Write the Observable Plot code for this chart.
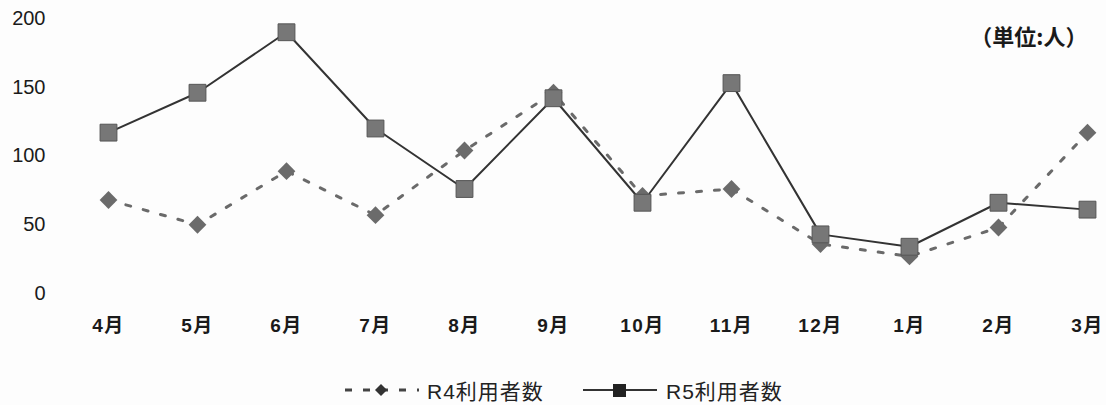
<!DOCTYPE html>
<html>
<head>
<meta charset="utf-8">
<script src="https://cdn.jsdelivr.net/npm/d3@7"></script>
<script src="https://cdn.jsdelivr.net/npm/@observablehq/plot@0.6"></script>
<style>
  html, body { margin: 0; padding: 0; background: #fdfdfd; }
  #chart { width: 1106px; height: 405px; position: relative; font-family: "Liberation Sans", "Noto Sans CJK JP", sans-serif; color: #222; }
  #chart svg g[aria-label="x-axis tick label"] text { letter-spacing: 1.5px; }
  .legend { position: absolute; left: 0; top: 375px; width: 1106px; height: 30px; }
  .legend .item { position: absolute; top: 0; height: 30px; display: flex; align-items: center; gap: 8px; font-size: 21px; letter-spacing: 1px; color: #222; font-family: "Liberation Sans", "Noto Sans CJK JP", sans-serif; }
  .legend svg { display: block; }
</style>
</head>
<body>
<div id="chart"></div>
<script>
const months = ["4月", "5月", "6月", "7月", "8月", "9月", "10月", "11月", "12月", "1月", "2月", "3月"];
const r4Values = [68, 50, 89, 57, 104, 146, 71, 76, 36, 27, 48, 117];
const r5Values = [117, 146, 190, 120, 76, 142, 66, 153, 43, 34, 66, 61];
const yTicks = [0, 50, 100, 150, 200];
const seriesNames = ["R4利用者数", "R5利用者数"];
const unitLabel = "（単位:人）";

const data = months.map((m, i) => ({ month: m, r4: r4Values[i], r5: r5Values[i] }));

const plot = Plot.plot({
  width: 1106,
  height: 350,
  marginLeft: 107,
  marginRight: 19,
  marginTop: 18,
  marginBottom: 57,
  x: { type: "point", domain: months, padding: 0 },
  y: { domain: [0, 200] },
  style: { fontFamily: "'Liberation Sans', 'Noto Sans CJK JP', sans-serif", fontSize: "20px", color: "#1a1a1a", background: "transparent", overflow: "visible" },
  marks: [
    Plot.axisY(yTicks, { tickSize: 0, tickPadding: 62, label: null, fontSize: 20 }),
    Plot.axisX({ tickSize: 0, tickPadding: 25, label: null, fontSize: 19, fontWeight: "bold" }),
    Plot.lineY(data, { x: "month", y: "r4", stroke: "#6a6a6a", strokeWidth: 3, strokeDasharray: "5,13" }),
    Plot.lineY(data, { x: "month", y: "r5", stroke: "#333", strokeWidth: 2 }),
    Plot.dot(data, { x: "month", y: "r4", symbol: "diamond2", r: 8, fill: "#6b6b6b", stroke: "none" }),
    Plot.dot(data, { x: "month", y: "r5", symbol: "square", r: 9.5, fill: "#777", stroke: "#555", strokeWidth: 1 }),
    Plot.text([unitLabel], { frameAnchor: "top-right", dx: 0, dy: 11, fontSize: 22, fontWeight: "bold", fill: "#1a1a1a", fontFamily: "'Noto Sans CJK JP', sans-serif" })
  ]
});
document.getElementById("chart").appendChild(plot);

const legend = document.createElement("div");
legend.className = "legend";
legend.innerHTML = `
  <div class="item" style="left:343px">
    <svg width="76" height="16"><line x1="2" y1="8" x2="76" y2="8" stroke="#444" stroke-width="3" stroke-dasharray="7,11"/><path d="M38,2 L44,8 L38,14 L32,8 Z" fill="#333"/></svg>
    <span>${seriesNames[0]}</span>
  </div>
  <div class="item" style="left:582px">
    <svg width="76" height="16"><line x1="1" y1="8" x2="75" y2="8" stroke="#333" stroke-width="2"/><rect x="31" y="2" width="13" height="13" fill="#222"/></svg>
    <span>${seriesNames[1]}</span>
  </div>`;
document.getElementById("chart").appendChild(legend);
</script>
</body>
</html>
